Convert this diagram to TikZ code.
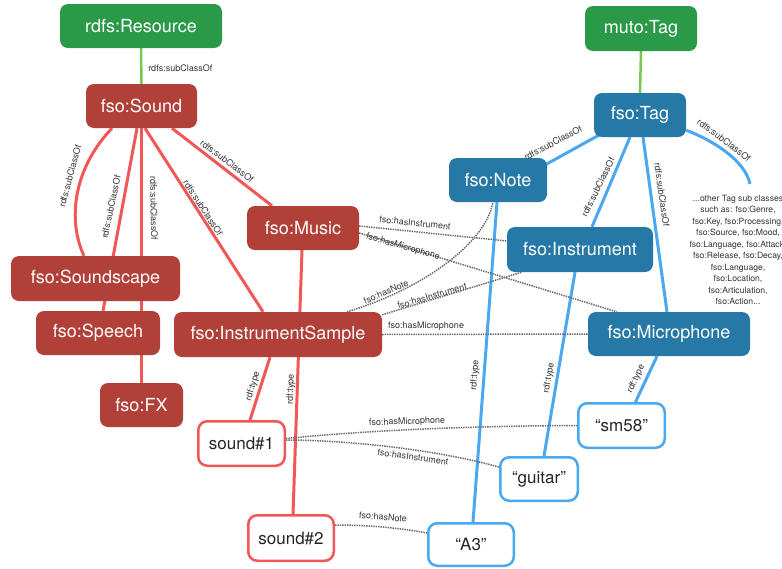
\documentclass[tikz,border=0pt]{standalone}
\usepackage{fontspec}
\setmainfont{TeX Gyre Heros}
\usetikzlibrary{calc}
\definecolor{cgreen}{RGB}{42,154,72}
\definecolor{cgreenedge}{RGB}{120,200,80}
\definecolor{cred}{RGB}{176,64,56}
\definecolor{credge}{RGB}{240,88,88}
\definecolor{cblue}{RGB}{38,120,166}
\definecolor{cblueedge}{RGB}{74,168,240}
\definecolor{cdot}{RGB}{105,105,105}
\pgfdeclarelayer{back}
\pgfdeclarelayer{bg}
\pgfsetlayers{back,bg,main}
\tikzset{
 cls/.style={rounded corners=8pt, text=white, font=\fontsize{18}{20}\selectfont, inner sep=0pt},
 greenbox/.style={cls, fill=cgreen},
 redbox/.style={cls, fill=cred},
 bluebox/.style={cls, fill=cblue},
 inst/.style={rounded corners=9pt, fill=white, line width=2.5pt, font=\fontsize{17}{20}\selectfont, inner sep=0pt, text=black!85},
 redinst/.style={inst, draw=credge},
 blueinst/.style={inst, draw=cblueedge},
 redline/.style={draw=credge, line width=3pt},
 blueline/.style={draw=cblueedge, line width=3pt},
 greenline/.style={draw=cgreenedge, line width=2.5pt},
 dotline/.style={draw=cdot, line width=1.5pt, dash pattern=on 1.4pt off 1pt},
 lbl/.style={font=\fontsize{9}{10}\selectfont, text=black!80, inner sep=0pt},
 othertext/.style={font=\fontsize{8.6}{11.5}\selectfont, align=center, text=black!80, inner sep=0pt},
}
\begin{document}
\begin{tikzpicture}[x=1pt,y=-1pt]
\useasboundingbox (0,0) rectangle (782,568);
\begin{pgfonlayer}{back}
\fill[white] (0,0) rectangle (782,568);
\end{pgfonlayer}
% class nodes
\node[greenbox, minimum width=162pt, minimum height=44pt] (res) at (141,26) {rdfs:Resource};
\node[redbox, minimum width=111pt, minimum height=44pt] (sound) at (141.5,106) {fso:Sound};
\node[redbox, minimum width=112pt, minimum height=44pt] (music) at (303,228) {fso:Music};
\node[redbox, minimum width=169pt, minimum height=45pt] (scape) at (95.5,278.5) {fso:Soundscape};
\node[redbox, minimum width=124pt, minimum height=44pt] (speech) at (98,333) {fso:Speech};
\node[redbox, minimum width=83pt, minimum height=44pt] (fx) at (141.5,405) {fso:FX};
\node[redbox, minimum width=208pt, minimum height=45pt] (is) at (278,334.5) {fso:InstrumentSample};
\node[redinst, minimum width=86.5pt, minimum height=44.5pt] (sound1) at (241.5,443.5) {sound\#1};
\node[redinst, minimum width=85.5pt, minimum height=45.5pt] (sound2) at (291,538) {sound\#2};
\node[greenbox, minimum width=112pt, minimum height=45pt] (muto) at (641,28.5) {muto:Tag};
\node[bluebox, minimum width=92pt, minimum height=44pt] (tag) at (640,115) {fso:Tag};
\node[bluebox, minimum width=98pt, minimum height=44pt] (note) at (498,180) {fso:Note};
\node[bluebox, minimum width=146pt, minimum height=45pt] (inst) at (580,249.5) {fso:Instrument};
\node[bluebox, minimum width=162pt, minimum height=44pt] (mic) at (669,334) {fso:Microphone};
\node[blueinst, minimum width=86.5pt, minimum height=44.5pt] (sm58) at (621.5,425.5) {“sm58”};
\node[blueinst, minimum width=77.5pt, minimum height=43.5pt] (guitar) at (539,479) {“guitar”};
\node[blueinst, minimum width=85.5pt, minimum height=42.5pt] (a3) at (471,544.5) {“A3”};
\node[othertext, anchor=north] (other) at (738,195) {...other Tag sub classes\\such as: fso:Genre,\\fso:Key, fso:Processing,\\fso:Source, fso:Mood,\\fso:Language, fso:Attack,\\fso:Release, fso:Decay,\\fso:Language,\\fso:Location,\\fso:Articulation,\\fso:Action...};
\coordinate (othertop) at (750,184);

\begin{pgfonlayer}{bg}
% green
\draw[greenline] (res.south) -- (sound.north) node[lbl, anchor=west] at (147,68) {rdfs:subClassOf};
\draw[greenline] (muto.south) -- (tag.north);
% red
\draw[redline] ([xshift=-29.5pt]sound.south) .. controls (72,170) and (68,222) .. ([xshift=-11.5pt]scape.north) node[lbl,rotate=75] at (70,176) {rdfs:subClassOf};
\draw[redline] ([xshift=-4.5pt]sound.south) -- ([xshift=5pt]speech.north) node[lbl,rotate=78] at (111,207) {rdfs:subClassOf};
\draw[redline] (sound.south) -- (fx.north) node[lbl,rotate=-89] at (154,208) {rdfs:subClassOf};
\draw[redline] ([xshift=3.5pt]sound.south) -- ([xshift=-15pt]is.north) node[lbl,rotate=-57] at (203,208) {rdfs:subClassOf};
\draw[redline] ([xshift=30.5pt]sound.south) -- ([xshift=-31pt]music.north) node[lbl,rotate=-37] at (227,161) {rdfs:subClassOf};
\draw[redline] ([xshift=-1pt]music.south) -- ([xshift=2pt]sound2.north) node[lbl,rotate=88] at (291,389) {rdf:type};
\draw[redline] ([xshift=-8pt]is.south) -- ([xshift=8.5pt]sound1.north) node[lbl,rotate=73] at (253,386) {rdf:type};
% blue
\draw[blueline] ([xshift=5pt,yshift=2pt]tag.south west) -- ([xshift=-2pt,yshift=-7pt]note.north east) node[lbl,rotate=28] at (553,143) {rdfs:subClassOf};
\draw[blueline] ([xshift=-10pt]tag.south) -- ([xshift=12pt]inst.north) node[lbl,rotate=64] at (598,187) {rdfs:subClassOf};
\draw[blueline] ([xshift=3pt]tag.south) -- ([xshift=-2pt]mic.north) node[lbl,rotate=-82] at (662,195) {rdfs:subClassOf};
\draw[blueline] ([yshift=7pt]tag.south east) .. controls (712,140) and (745,160) .. (othertop) node[lbl,rotate=-37] at (724,140) {rdfs:subClassOf};
\draw[blueline] ([xshift=-1pt]note.south) -- ([xshift=2pt]a3.north) node[lbl,rotate=85] at (475,375) {rdf:type};
\draw[blueline] ([xshift=-5pt]inst.south) -- ([xshift=5pt]guitar.north) node[lbl,rotate=80] at (549,378) {rdf:type};
\draw[blueline] ([xshift=-12pt]mic.south) -- ([xshift=14pt]sm58.north) node[lbl,rotate=65] at (636,379) {rdf:type};
% dotted
\draw[dotline] ([yshift=2pt]music.east) -- ([yshift=8.5pt]inst.west) node[lbl,rotate=-6] at (415,223) {fso:hasInstrument};
\draw[dotline] ([yshift=-5pt]music.east) -- ([xshift=29pt]mic.north west) node[lbl,rotate=-16] at (403,247) {fso:hasMicrophone};
\draw[dotline] ([xshift=69pt]is.north) .. controls (420,290) and (485,245) .. ([xshift=-5pt]note.south) node[lbl,rotate=24] at (386,292) {fso:hasNote};
\draw[dotline] ([yshift=-3pt]is.north east) -- ([xshift=15pt]inst.south west) node[lbl,rotate=16] at (432,296) {fso:hasInstrument};
\draw[dotline] (is.east) -- (mic.west) node[lbl] at (426,326) {fso:hasMicrophone};
\draw[dotline] ([yshift=5pt]sound1.east) .. controls (350,432) and (450,426) .. (sm58.west) node[lbl,rotate=2] at (407,422) {fso:hasMicrophone};
\draw[dotline] ([yshift=3.5pt]sound1.east) .. controls (340,440) and (430,448) .. ([yshift=12pt]guitar.west) node[lbl,rotate=-8] at (413,457) {fso:hasInstrument};
\draw[dotline] ([yshift=13pt]sound2.east) .. controls (370,525) and (400,528) .. ([yshift=11.5pt]a3.west) node[lbl,rotate=-5] at (383,517) {fso:hasNote};
\end{pgfonlayer}
\end{tikzpicture}
\end{document}
